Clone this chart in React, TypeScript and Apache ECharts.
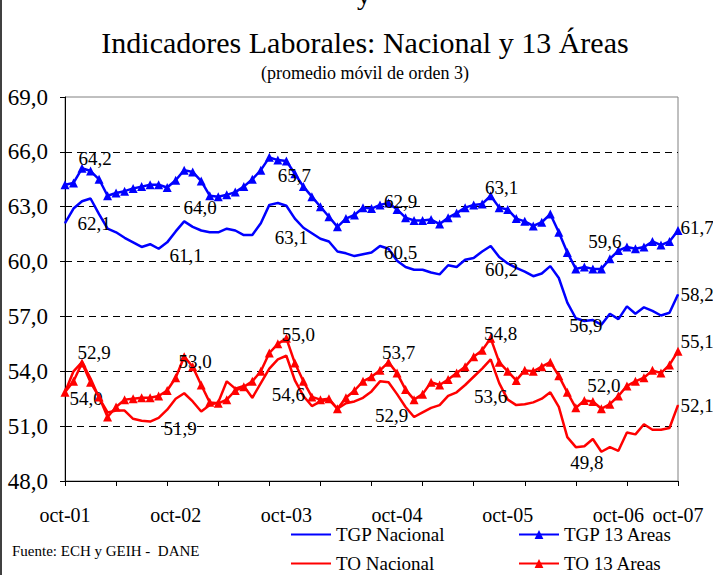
import React, { useEffect, useRef } from "react";
import * as echarts from "echarts";

// ---------- data ----------
const monthNames = ["oct", "nov", "dic", "ene", "feb", "mar", "abr", "may", "jun", "jul", "ago", "sep"];
const categories: string[] = [];
for (let i = 0; i < 73; i++) {
  const yr = 2001 + Math.floor((9 + i) / 12);
  categories.push(monthNames[i % 12] + "-" + String(yr % 100).padStart(2, "0"));
}

const xTickLabels = ["oct-01", "oct-02", "oct-03", "oct-04", "oct-05", "oct-06", "oct-07"];
const xTickIndex = [0, 13, 26, 39, 52, 65, 72];

const tgpNacional = [
  62.1, 62.9, 63.3, 63.45, 62.6, 61.8, 61.6, 61.3, 61.05, 60.8, 60.95, 60.7,
  61.05, 61.65, 62.2, 61.9, 61.7, 61.6, 61.6, 61.8, 61.7, 61.45, 61.45, 62.1,
  63.1, 63.2, 63.05, 62.35, 61.85, 61.55, 61.25, 61.1, 60.55, 60.45, 60.3, 60.4,
  60.5, 60.85, 60.7, 60.05, 59.7, 59.55, 59.55, 59.4, 59.3, 59.8, 59.7, 60.1,
  60.2, 60.55, 60.85, 60.25, 59.9, 59.65, 59.45, 59.2, 59.35, 59.75, 59.1, 57.75,
  56.9, 56.75, 56.8, 56.55, 57.15, 56.85, 57.55, 57.15, 57.5, 57.3, 57.05, 57.2,
  58.2,
];

const tgp13Areas = [
  64.2, 64.3, 65.1, 64.95, 64.5, 63.6, 63.75, 63.85, 64.0, 64.1, 64.2, 64.2,
  64.05, 64.45, 65.0, 64.9, 64.4, 63.6, 63.55, 63.65, 63.8, 64.1, 64.5, 65.0,
  65.7, 65.55, 65.5, 64.8, 64.1, 63.55, 63.0, 62.45, 61.9, 62.35, 62.55, 62.95,
  62.9, 63.1, 63.2, 62.85, 62.4, 62.25, 62.25, 62.3, 62.05, 62.4, 62.65, 62.95,
  63.1, 63.15, 63.6, 62.95, 62.85, 62.35, 62.2, 61.95, 62.15, 62.6, 61.6, 60.5,
  59.6, 59.7, 59.6, 59.6, 60.15, 60.6, 60.8, 60.7, 60.8, 61.1, 60.9, 61.1,
  61.7,
];

const toNacional = [
  52.85, 54.0, 54.5, 53.6, 52.55, 51.75, 51.85, 51.85, 51.4, 51.3, 51.25, 51.45,
  51.9, 52.5, 52.8, 52.35, 51.8, 52.15, 52.3, 53.45, 53.05, 53.2, 52.55, 53.35,
  54.15, 54.65, 54.85, 53.5, 52.65, 52.1, 52.35, 52.45, 51.95, 52.25, 52.35, 52.55,
  52.9, 53.45, 53.4, 52.75, 52.05, 51.5, 51.75, 52.0, 52.15, 52.65, 52.85, 53.25,
  53.7, 54.15, 54.65, 53.35, 52.45, 52.15, 52.2, 52.3, 52.5, 52.85, 52.05, 50.4,
  49.85, 49.9, 50.3, 49.6, 49.85, 49.65, 50.65, 50.55, 51.1, 50.8, 50.8, 50.9,
  52.15,
];

const to13Areas = [
  52.85, 53.45, 54.45, 53.4, 52.6, 51.5, 52.05, 52.45, 52.5, 52.55, 52.55, 52.65,
  52.95, 53.65, 54.8, 54.25, 53.25, 52.3, 52.25, 52.45, 52.95, 53.15, 53.45, 54.0,
  55.0, 55.5, 55.8, 54.45, 53.45, 52.6, 52.45, 52.5, 51.95, 52.55, 52.95, 53.45,
  53.7, 54.05, 54.5, 53.9, 53.0, 52.45, 52.75, 53.4, 53.25, 53.55, 53.9, 54.25,
  54.8, 55.15, 55.8, 54.5, 54.0, 53.5, 54.05, 54.0, 54.25, 54.5, 53.75, 52.85,
  52.0, 52.4, 52.35, 51.95, 52.2, 52.65, 53.2, 53.45, 53.65, 54.05, 53.9, 54.35,
  55.1,
];

// annotation texts shown next to the October points
const tgp13Notes = ["64,2", "64,0", "65,7", "62,9", "63,1", "59,6", "61,7"];
const tgpNacNotes = ["62,1", "61,1", "63,1", "60,5", "60,2", "56,9", "58,2"];
const to13Notes = ["52,9", "53,0", "55,0", "53,7", "54,8", "52,0", "55,1"];
const toNacNotes = ["54,0", "51,9", "54,6", "52,9", "53,6", "49,8", "52,1"];
const noteIndex = [0, 12, 24, 36, 48, 60, 72];

// label offsets (layout only)
const tgp13Off = [[30, -26], [33, 20], [25, 18], [29, -7], [28, -17], [29, -27], [19, -3]];
const tgpNacOff = [[29, 0], [19, 13], [22, 33], [29, 0], [28, 12], [10, 7], [19, 0]];
const to13Off = [[29, -40], [28, -29], [29, -19], [27, -24], [27, -23], [28, -22], [19, -10]];
const toNacOff = [[21, 6], [13, 19], [19, 26], [20, 24], [17, 20], [11, 15], [19, 0]];

const SERIF = "Liberation Serif, Times New Roman, serif";
const BLUE = "#0000FF";
const RED = "#FF0000";

function withNotes(values: number[], notes: string[], offs: number[][]) {
  return values.map((v, i) => {
    const k = noteIndex.indexOf(i);
    if (k < 0) return v;
    return {
      value: v,
      label: {
        show: true,
        formatter: notes[k],
        position: "inside",
        offset: offs[k],
        align: "center",
        verticalAlign: "middle",
        fontSize: 19,
        fontFamily: SERIF,
        color: "#000",
      },
    };
  });
}

export default function App() {
  const ref = useRef<HTMLDivElement>(null);

  useEffect(() => {
    if (!ref.current) return;
    const chart = echarts.init(ref.current, undefined, { renderer: "svg" });

    const legendCommon = {
      itemWidth: 40,
      itemHeight: 11,
      padding: 0,
      itemGap: 0,
      selectedMode: false,
      textStyle: { fontSize: 19, fontFamily: SERIF, color: "#000" },
    };

    const option: any = {
      animation: false,
      backgroundColor: "#fff",
      grid: {
        left: 65,
        right: 35,
        top: 97,
        bottom: 94,
        show: true,
        borderColor: "#808080",
        borderWidth: 1,
        backgroundColor: "transparent",
      },
      xAxis: {
        type: "category",
        data: categories,
        boundaryGap: false,
        axisLine: { lineStyle: { color: "#000", width: 1 } },
        axisTick: {
          show: true,
          length: 5,
          interval: (i: number) => i % 6 === 0,
          lineStyle: { color: "#000" },
        },
        axisLabel: {
          interval: (i: number) => xTickIndex.indexOf(i) >= 0,
          formatter: (_v: string, i: number) => {
            const k = xTickIndex.indexOf(i);
            return k >= 0 ? xTickLabels[k] : "";
          },
          margin: 24,
          fontSize: 20,
          fontFamily: SERIF,
          color: "#000",
        },
        splitLine: { show: false },
      },
      yAxis: {
        type: "value",
        min: 48,
        max: 69,
        interval: 3,
        axisLine: { show: true, lineStyle: { color: "#000", width: 1 } },
        axisTick: { show: true, length: 5, lineStyle: { color: "#000" } },
        axisLabel: {
          formatter: (v: number) => v.toFixed(1).replace(".", ","),
          margin: 17,
          fontSize: 23,
          fontFamily: SERIF,
          color: "#000",
        },
        splitLine: {
          show: true,
          showMaxLine: false,
          showMinLine: false,
          lineStyle: { color: "#000", type: [7, 5], width: 1 },
        },
      },
      legend: [
        { ...legendCommon, left: 290, top: 525, data: [{ name: "TGP Nacional", itemStyle: { opacity: 0 } }], itemStyle: { opacity: 0 } },
        { ...legendCommon, left: 518, top: 525, data: ["TGP 13 Areas"] },
        { ...legendCommon, left: 290, top: 554, data: [{ name: "TO Nacional", itemStyle: { opacity: 0 } }], itemStyle: { opacity: 0 } },
        { ...legendCommon, left: 518, top: 554, data: ["TO 13 Areas"] },
      ],
      series: [
        {
          name: "TGP Nacional",
          type: "line",
          data: withNotes(tgpNacional, tgpNacNotes, tgpNacOff),
          symbol: "circle",
          symbolSize: 1,
          showAllSymbol: true,
          itemStyle: { color: BLUE },
          lineStyle: { color: BLUE, width: 2.5 },
          label: { show: false },
          z: 2,
        },
        {
          name: "TGP 13 Areas",
          type: "line",
          data: withNotes(tgp13Areas, tgp13Notes, tgp13Off),
          symbol: "triangle",
          symbolSize: 9,
          showAllSymbol: true,
          itemStyle: { color: BLUE },
          lineStyle: { color: BLUE, width: 2.5 },
          label: { show: false },
          z: 3,
        },
        {
          name: "TO Nacional",
          type: "line",
          data: withNotes(toNacional, toNacNotes, toNacOff),
          symbol: "circle",
          symbolSize: 1,
          showAllSymbol: true,
          itemStyle: { color: RED },
          lineStyle: { color: RED, width: 2.5 },
          label: { show: false },
          z: 2,
        },
        {
          name: "TO 13 Areas",
          type: "line",
          data: withNotes(to13Areas, to13Notes, to13Off),
          symbol: "triangle",
          symbolSize: 9,
          showAllSymbol: true,
          itemStyle: { color: RED },
          lineStyle: { color: RED, width: 2.5 },
          label: { show: false },
          z: 3,
        },
      ],
      graphic: [
        {
          type: "text",
          x: 365,
          y: 42,
          style: {
            text: "Indicadores Laborales: Nacional y 13 Áreas",
            font: "30px " + SERIF,
            fill: "#000",
            textAlign: "center",
            align: "center",
            textVerticalAlign: "middle",
            verticalAlign: "middle",
          },
        },
        {
          type: "text",
          x: 365,
          y: 73,
          style: {
            text: "(promedio móvil de orden 3)",
            font: "18px " + SERIF,
            fill: "#000",
            textAlign: "center",
            align: "center",
            textVerticalAlign: "middle",
            verticalAlign: "middle",
          },
        },
        {
          type: "text",
          x: 364,
          y: -6,
          style: {
            text: "y",
            font: "28px " + SERIF,
            fill: "#000",
            textAlign: "center",
            align: "center",
            textVerticalAlign: "middle",
            verticalAlign: "middle",
          },
        },
        {
          type: "text",
          x: 12,
          y: 551,
          style: {
            text: "Fuente: ECH y GEIH -  DANE",
            font: "15px " + SERIF,
            fill: "#000",
            textAlign: "left",
            align: "left",
            textVerticalAlign: "middle",
            verticalAlign: "middle",
          },
        },
        {
          type: "line",
          shape: { x1: 1, y1: 0, x2: 1, y2: 575 },
          style: { stroke: "#000", lineWidth: 1.5 },
        },
      ],
    };

    chart.setOption(option);
    return () => chart.dispose();
  }, []);

  return (
    <div
      ref={ref}
      style={{ position: "fixed", left: 0, top: 0, width: 713, height: 575, background: "#fff" }}
    />
  );
}
